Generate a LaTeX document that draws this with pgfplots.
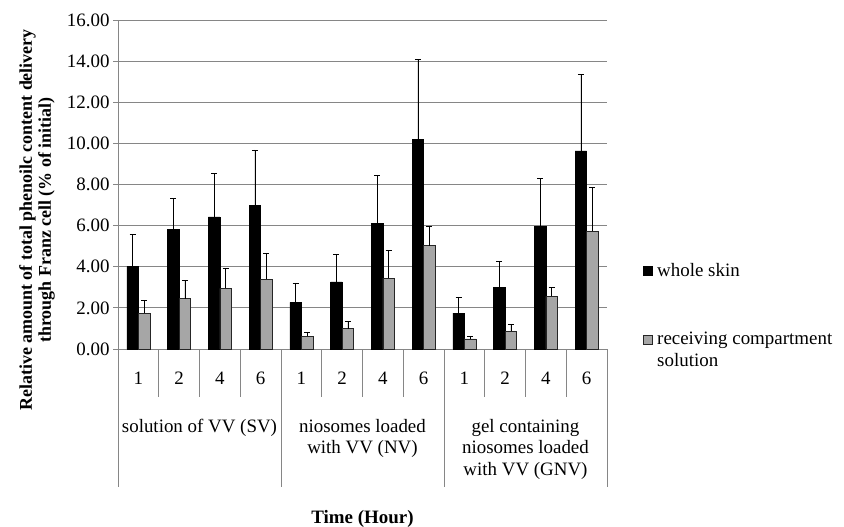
\documentclass[border=0pt]{standalone}
\usepackage{fontspec}
\setmainfont{Liberation Serif}
\usepackage{pgfplots}
\usepackage{pgfplotstable}
\pgfplotsset{compat=1.18}
\definecolor{gridgray}{RGB}{134,134,134}
\definecolor{bargray}{RGB}{166,166,166}

\pgfplotstableread{
x ws wserr rc rcerr
0 4.02 1.57 1.75 0.61
1 5.80 1.50 2.45 0.87
2 6.43 2.12 2.95 0.95
3 7.00 2.68 3.40 1.23
4 2.27 0.94 0.62 0.19
5 3.27 1.31 0.99 0.37
6 6.11 2.33 3.45 1.33
7 10.20 3.90 5.02 0.94
8 1.75 0.78 0.49 0.13
9 3.01 1.27 0.86 0.32
10 5.96 2.33 2.56 0.45
11 9.64 3.72 5.72 2.13
}\data

\newcommand{\lf}{\fontsize{19}{22}\selectfont}

\begin{document}
\begin{tikzpicture}
\useasboundingbox (0,0) rectangle (844bp,527bp);
\begin{axis}[
  at={(118bp,178bp)}, anchor=south west,
  scale only axis, width=489bp, height=329bp,
  xmin=-0.5, xmax=11.5, ymin=0, ymax=16,
  ytick={0,2,...,16},
  xtick={0,...,11},
  xticklabels={1,2,4,6,1,2,4,6,1,2,4,6},
  ybar=0pt, bar width=11.5bp,
  axis x line*=bottom, axis y line*=left,
  x axis line style={-, draw=gridgray, line width=0.8pt},
  y axis line style={-, draw=gridgray, line width=0.8pt},
  ymajorgrids, grid style={draw=gridgray, line width=0.8pt},
  tick align=outside, major tick length=5bp,
  ytick style={draw=gridgray, line width=0.8pt},
  xtick style={draw=none},
  every tick label/.append style={font=\lf},
  yticklabel style={/pgf/number format/fixed, /pgf/number format/fixed zerofill,
     /pgf/number format/precision=2, /pgf/number format/assume math mode=true},
  xticklabel style={anchor=base, yshift=-30bp},
  clip=false,
]
\addplot[fill=black, draw=black, line width=0.5pt,
  error bars/.cd, y dir=plus, y explicit,
  error bar style={black, line width=0.7pt},
  error mark options={rotate=90, mark size=3bp, black, line width=0.9pt}]
  table[x=x, y=ws, y error=wserr] {\data};
\addplot[fill=bargray, draw=black!85, line width=0.6pt,
  error bars/.cd, y dir=plus, y explicit,
  error bar style={black, line width=0.7pt},
  error mark options={rotate=90, mark size=3bp, black, line width=0.9pt}]
  table[x=x, y=rc, y error=rcerr] {\data};

\draw[gridgray, line width=0.8pt] foreach \x in {0.5,1.5,2.5,4.5,5.5,6.5,8.5,9.5,10.5} {(axis cs:\x,0) -- ([yshift=-48bp]axis cs:\x,0)};
\draw[gridgray, line width=0.8pt] foreach \x in {-0.5,3.5,7.5,11.5} {(axis cs:\x,0) -- ([yshift=-138bp]axis cs:\x,0)};

\node[anchor=base, inner sep=0, font=\lf] at ([yshift=-83bp]axis cs:1.5,0) {solution of VV (SV)};
\node[anchor=base, inner sep=0, font=\lf] at ([yshift=-83bp]axis cs:5.5,0) {niosomes loaded};
\node[anchor=base, inner sep=0, font=\lf] at ([yshift=-104bp]axis cs:5.5,0) {with VV (NV)};
\node[anchor=base, inner sep=0, font=\lf] at ([yshift=-83bp]axis cs:9.5,0) {gel containing};
\node[anchor=base, inner sep=0, font=\lf] at ([yshift=-104bp]axis cs:9.5,0) {niosomes loaded};
\node[anchor=base, inner sep=0, font=\lf] at ([yshift=-126bp]axis cs:9.5,0) {with VV (GNV)};
\node[anchor=base, inner sep=0, font=\bfseries\lf] at ([yshift=-174bp]axis cs:5.5,0) {Time (Hour)};
\end{axis}

\node[rotate=90, align=center, inner sep=0, font=\bfseries\fontsize{18}{19}\selectfont] at (37bp,307bp)
  {Relative amount of total phenoilc content delivery\\through Franz cell (\% of initial)};

\fill[black] (643bp,251bp) rectangle (652.5bp,260.5bp);
\node[anchor=base west, inner sep=0, font=\lf] at (657bp,250.5bp) {whole skin};
\filldraw[fill=bargray, draw=black!85, line width=0.6pt] (643bp,182.5bp) rectangle (652.5bp,192bp);
\node[anchor=base west, inner sep=0, font=\lf] at (657bp,182.7bp) {receiving compartment};
\node[anchor=base west, inner sep=0, font=\lf] at (657bp,160.5bp) {solution};
\end{tikzpicture}
\end{document}
